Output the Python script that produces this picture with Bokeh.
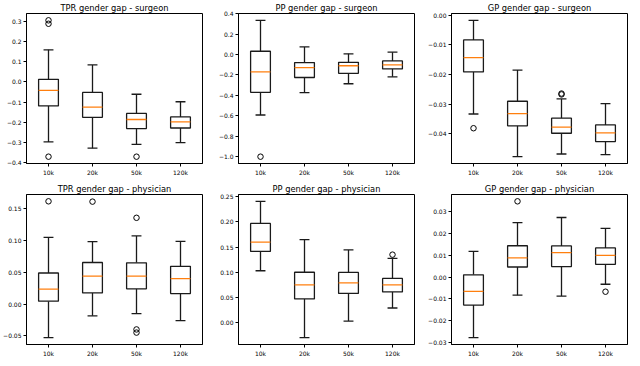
from bokeh.plotting import figure
from bokeh.layouts import gridplot
from bokeh.models import FixedTicker, Range1d
from bokeh.embed import file_html
from bokeh.resources import INLINE

categories = ["10k", "20k", "50k", "120k"]

# ---- TPR gender gap - surgeon
tpr_s_lo = [-0.297, -0.328, -0.309, -0.300]
tpr_s_q1 = [-0.119, -0.175, -0.231, -0.228]
tpr_s_med = [-0.042, -0.125, -0.186, -0.198]
tpr_s_q3 = [0.013, -0.052, -0.156, -0.173]
tpr_s_hi = [0.159, 0.084, -0.061, -0.098]
tpr_s_out_cat = ["10k", "10k", "10k", "50k"]
tpr_s_out_val = [0.305, 0.288, -0.370, -0.370]
tpr_s_ticks = [-0.4, -0.3, -0.2, -0.1, 0.0, 0.1, 0.2, 0.3]
tpr_s_labels = ["\u22120.4", "\u22120.3", "\u22120.2", "\u22120.1", "0.0", "0.1", "0.2", "0.3"]

# ---- PP gender gap - surgeon
pp_s_lo = [-0.592, -0.373, -0.286, -0.218]
pp_s_q1 = [-0.370, -0.225, -0.184, -0.141]
pp_s_med = [-0.169, -0.129, -0.110, -0.101]
pp_s_q3 = [0.032, -0.079, -0.076, -0.063]
pp_s_hi = [0.335, 0.075, 0.007, 0.023]
pp_s_out_cat = ["10k"]
pp_s_out_val = [-1.0]
pp_s_ticks = [-1.0, -0.8, -0.6, -0.4, -0.2, 0.0, 0.2, 0.4]
pp_s_labels = ["\u22121.0", "\u22120.8", "\u22120.6", "\u22120.4", "\u22120.2", "0.0", "0.2", "0.4"]

# ---- GP gender gap - surgeon
gp_s_lo = [-0.0333, -0.0477, -0.0468, -0.0470]
gp_s_q1 = [-0.0191, -0.0373, -0.0398, -0.0426]
gp_s_med = [-0.0143, -0.0332, -0.0377, -0.0397]
gp_s_q3 = [-0.0083, -0.0290, -0.0347, -0.0370]
gp_s_hi = [-0.0017, -0.0185, -0.0282, -0.0298]
gp_s_out_cat = ["10k", "50k", "50k"]
gp_s_out_val = [-0.0381, -0.0267, -0.0264]
gp_s_ticks = [-0.04, -0.03, -0.02, -0.01, 0.0]
gp_s_labels = ["\u22120.04", "\u22120.03", "\u22120.02", "\u22120.01", "0.00"]

# ---- TPR gender gap - physician
tpr_p_lo = [-0.053, -0.0185, -0.015, -0.026]
tpr_p_q1 = [0.0045, 0.0175, 0.024, 0.0165]
tpr_p_med = [0.0235, 0.044, 0.044, 0.040]
tpr_p_q3 = [0.049, 0.0655, 0.065, 0.0595]
tpr_p_hi = [0.105, 0.0985, 0.1075, 0.099]
tpr_p_out_cat = ["10k", "20k", "50k", "50k", "50k"]
tpr_p_out_val = [0.162, 0.1615, 0.136, -0.040, -0.045]
tpr_p_ticks = [-0.05, 0.0, 0.05, 0.10, 0.15]
tpr_p_labels = ["\u22120.05", "0.00", "0.05", "0.10", "0.15"]

# ---- PP gender gap - physician
pp_p_lo = [0.103, -0.030, 0.003, 0.029]
pp_p_q1 = [0.1414, 0.047, 0.058, 0.061]
pp_p_med = [0.160, 0.075, 0.079, 0.075]
pp_p_q3 = [0.197, 0.100, 0.0997, 0.0877]
pp_p_hi = [0.241, 0.165, 0.1445, 0.1275]
pp_p_out_cat = ["120k"]
pp_p_out_val = [0.135]
pp_p_ticks = [0.0, 0.05, 0.10, 0.15, 0.20, 0.25]
pp_p_labels = ["0.00", "0.05", "0.10", "0.15", "0.20", "0.25"]

# ---- GP gender gap - physician
gp_p_lo = [-0.0277, -0.0083, -0.0087, -0.0033]
gp_p_q1 = [-0.0128, 0.0046, 0.0048, 0.0058]
gp_p_med = [-0.0065, 0.0088, 0.0112, 0.0099]
gp_p_q3 = [0.0010, 0.0143, 0.0142, 0.0133]
gp_p_hi = [0.0117, 0.0249, 0.0272, 0.0222]
gp_p_out_cat = ["20k", "120k"]
gp_p_out_val = [0.0346, -0.0067]
gp_p_ticks = [-0.03, -0.02, -0.01, 0.0, 0.01, 0.02, 0.03]
gp_p_labels = ["\u22120.03", "\u22120.02", "\u22120.01", "0.00", "0.01", "0.02", "0.03"]

FONT = "DejaVu Sans"
BOX_W = 0.45
CAP_W = 0.225
MED_COLOR = "#ff7f0e"
FRAME_W = 176
FRAME_H = 150


def box_panel(title, lo, q1, med, q3, hi, out_cat, out_val, ticks, labels,
              b_left, b_right, b_top, b_bottom):
    pos = list(range(1, len(categories) + 1))
    cat_pos = {c: i + 1 for i, c in enumerate(categories)}
    ox = [cat_pos[c] for c in out_cat]
    all_vals = lo + hi + out_val
    vmin, vmax = min(all_vals), max(all_vals)
    pad = 0.05 * (vmax - vmin)
    p = figure(frame_width=FRAME_W, frame_height=FRAME_H,
               x_range=Range1d(0.5, len(categories) + 0.5),
               y_range=Range1d(vmin - pad, vmax + pad),
               output_backend="svg", toolbar_location=None,
               min_border_left=b_left, min_border_right=b_right,
               min_border_top=b_top, min_border_bottom=b_bottom)
    p.title.text = title
    p.title.text_font = FONT
    p.title.text_font_size = "8.3px"
    p.title.text_font_style = "normal"
    p.title.align = "center"
    p.title.text_color = "black"
    p.title.standoff = 1
    p.title.offset = 0
    p.xgrid.visible = False
    p.ygrid.visible = False
    p.outline_line_color = "black"
    p.outline_line_width = 1
    p.background_fill_color = "white"
    p.border_fill_color = "white"
    for ax in (p.xaxis[0], p.yaxis[0]):
        ax.axis_line_color = "black"
        ax.major_tick_line_color = "black"
        ax.minor_tick_line_color = None
        ax.major_tick_in = 0
        ax.major_tick_out = 3
        ax.major_label_text_font = FONT
        ax.major_label_text_font_size = "6px"
        ax.major_label_text_color = "black"
        ax.major_label_standoff = 2
    p.xaxis[0].ticker = FixedTicker(ticks=pos)
    p.xaxis[0].major_label_overrides = {i + 1: c for i, c in enumerate(categories)}
    p.yaxis[0].ticker = FixedTicker(ticks=ticks)
    p.yaxis[0].major_label_overrides = {t: l for t, l in zip(ticks, labels)}

    lc = "#1a1a1a"
    lw = 1.3
    # whiskers
    p.segment(x0=pos, x1=pos, y0=q3, y1=hi, line_color=lc, line_width=lw)
    p.segment(x0=pos, x1=pos, y0=lo, y1=q1, line_color=lc, line_width=lw)
    # caps
    p.segment(x0=[x - CAP_W / 2 for x in pos], x1=[x + CAP_W / 2 for x in pos],
              y0=hi, y1=hi, line_color=lc, line_width=lw)
    p.segment(x0=[x - CAP_W / 2 for x in pos], x1=[x + CAP_W / 2 for x in pos],
              y0=lo, y1=lo, line_color=lc, line_width=lw)
    # boxes
    p.quad(left=[x - BOX_W / 2 for x in pos], right=[x + BOX_W / 2 for x in pos],
           bottom=q1, top=q3, fill_color="white", line_color=lc, line_width=lw)
    # medians
    p.segment(x0=[x - BOX_W / 2 for x in pos], x1=[x + BOX_W / 2 for x in pos],
              y0=med, y1=med, line_color=MED_COLOR, line_width=1.3)
    # outliers
    p.scatter(x=ox, y=out_val, marker="circle", size=5.5, fill_color=None,
              line_color="black", line_width=1)
    return p


p1 = box_panel("TPR gender gap - surgeon", tpr_s_lo, tpr_s_q1, tpr_s_med, tpr_s_q3, tpr_s_hi,
               tpr_s_out_cat, tpr_s_out_val, tpr_s_ticks, tpr_s_labels, 21, 11, 9, 14)
p2 = box_panel("PP gender gap - surgeon", pp_s_lo, pp_s_q1, pp_s_med, pp_s_q3, pp_s_hi,
               pp_s_out_cat, pp_s_out_val, pp_s_ticks, pp_s_labels, 25, 7, 9, 14)
p3 = box_panel("GP gender gap - surgeon", gp_s_lo, gp_s_q1, gp_s_med, gp_s_q3, gp_s_hi,
               gp_s_out_cat, gp_s_out_val, gp_s_ticks, gp_s_labels, 30, 2, 9, 14)
p4 = box_panel("TPR gender gap - physician", tpr_p_lo, tpr_p_q1, tpr_p_med, tpr_p_q3, tpr_p_hi,
               tpr_p_out_cat, tpr_p_out_val, tpr_p_ticks, tpr_p_labels, 21, 11, 16, 11)
p5 = box_panel("PP gender gap - physician", pp_p_lo, pp_p_q1, pp_p_med, pp_p_q3, pp_p_hi,
               pp_p_out_cat, pp_p_out_val, pp_p_ticks, pp_p_labels, 25, 7, 16, 11)
p6 = box_panel("GP gender gap - physician", gp_p_lo, gp_p_q1, gp_p_med, gp_p_q3, gp_p_hi,
               gp_p_out_cat, gp_p_out_val, gp_p_ticks, gp_p_labels, 30, 2, 16, 11)

grid = gridplot([[p1, p2, p3], [p4, p5, p6]], toolbar_location=None)

open("out.html", "w").write(file_html(grid, INLINE))
